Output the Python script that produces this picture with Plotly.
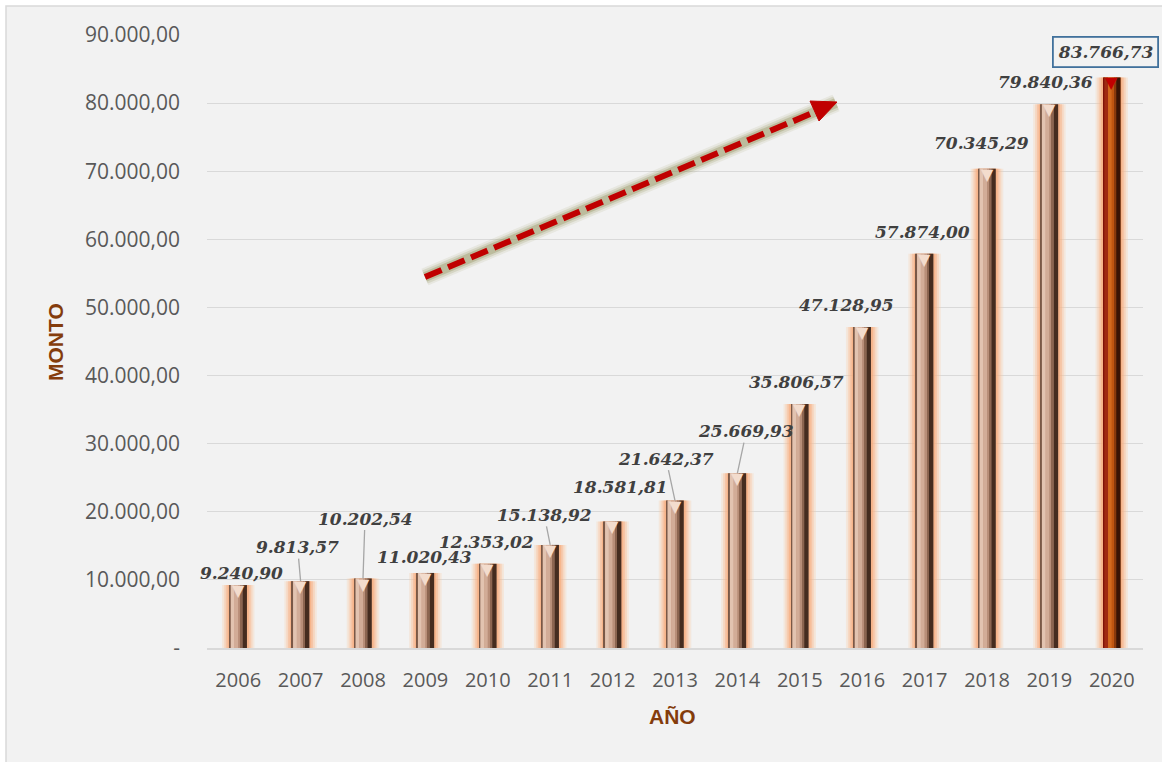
import plotly.graph_objects as go

# ---- data ----
years = [2006, 2007, 2008, 2009, 2010, 2011, 2012, 2013, 2014, 2015, 2016, 2017, 2018, 2019, 2020]
montos = [9240.90, 9813.57, 10202.54, 11020.43, 12353.02, 15138.92, 18581.81, 21642.37,
          25669.93, 35806.57, 47128.95, 57874.00, 70345.29, 79840.36, 83766.73]
y_tick_vals = [0, 10000, 20000, 30000, 40000, 50000, 60000, 70000, 80000, 90000]
y_tick_text = ["-", "10.000,00", "20.000,00", "30.000,00", "40.000,00", "50.000,00",
               "60.000,00", "70.000,00", "80.000,00", "90.000,00"]

# ---- geometry of the page ----
W, H = 1162, 762
M_L, M_R, M_T, M_B = 207, 19, 35, 114
PW, PH = W - M_L - M_R, H - M_T - M_B


def fmt_es(v):
    s = f"{v:,.2f}"
    return s.replace(",", "X").replace(".", ",").replace("X", ".")


def paper(px, py):
    return (px - M_L) / PW, (H - M_B - py) / PH


last = len(years) - 1
BAR_W = 0.28

fig = go.Figure()

# soft orange halo behind each bar (stacked translucent layers)
for w, col in [(0.52, "rgba(250,205,170,0.30)"), (0.46, "rgba(249,190,150,0.35)"),
               (0.40, "rgba(247,175,130,0.45)"), (0.34, "rgba(245,165,115,0.55)")]:
    fig.add_trace(go.Bar(
        x=years, y=montos, width=w,
        marker=dict(color=col, line=dict(width=0)),
        hoverinfo="skip", showlegend=False))

# bar body built from vertical shading strips (left light -> right dark)
strips = [
    # (offset from left edge, width, normal colour, highlighted colour)
    (0.000, 0.280, "#c49a84", "#c55a11"),
    (0.000, 0.020, "#7a5846", "#7e1209"),
    (0.020, 0.060, "#e2c3b0", "#a02a12"),
    (0.080, 0.060, "#d2ac97", "#d2691e"),
    (0.140, 0.040, "#b88e78", "#bf5510"),
    (0.180, 0.030, "#8c6550", "#8a3a0c"),
    (0.210, 0.070, "#452c1f", "#3a1405"),
]
for off, w, c_norm, c_hi in strips:
    colors = [c_hi if i == last else c_norm for i in range(len(years))]
    fig.add_trace(go.Bar(
        x=years, y=montos, width=w, offset=-BAR_W / 2 + off,
        marker=dict(color=colors, line=dict(width=0)),
        hoverinfo="skip", showlegend=False))

annotations = []

# bevelled cap on top of each bar
for i, (yr, v) in enumerate(zip(years, montos)):
    annotations.append(dict(
        x=yr, y=v, xref="x", yref="y", text="▼", showarrow=False,
        yanchor="top", yshift=5, borderpad=0,
        font=dict(family="DejaVu Sans", size=16, color="#c00000" if i == last else "#f3dccd")))

# value labels: pixel offsets of each label centre from its bar top
label_dx = [3, -3, 2, -1, -1, -6, 8, -9, 9, -3, -16, -2, -6, -4, -6]
label_dy = [-12, -34, -60, -16, -22, -30, -34, -42, -42, -22, -22, -22, -26, -22, -25]
leader = [False, True, True, False, False, True, False, True, True, False, False, False, False, False, False]

for i, (yr, v) in enumerate(zip(years, montos)):
    ann = dict(
        x=yr, y=v, xref="x", yref="y", text=f"<b><i>{fmt_es(v)}</i></b>",
        showarrow=True, ax=label_dx[i], ay=label_dy[i], axref="pixel", ayref="pixel",
        arrowhead=0, arrowwidth=1.3,
        arrowcolor="#a6a6a6" if leader[i] else "rgba(0,0,0,0)",
        font=dict(family="DejaVu Serif", size=17, color="#404040"),
        borderpad=1)
    if i == last:
        ann.update(bordercolor="#41719c", borderwidth=1.8, borderpad=4)
    annotations.append(ann)

# axis titles
tx, ty = paper(55, 342)
annotations.append(dict(x=tx, y=ty, xref="paper", yref="paper", text="<b>MONTO</b>",
                        textangle=-90, showarrow=False, xanchor="center", yanchor="middle",
                        font=dict(family="Liberation Sans", size=21, color="#843c0c")))
tx, ty = paper(672, 716)
annotations.append(dict(x=tx, y=ty, xref="paper", yref="paper", text="<b>AÑO</b>",
                        showarrow=False, xanchor="center", yanchor="middle",
                        font=dict(family="Liberation Sans", size=21, color="#843c0c")))

shapes = []
# chart area background panel
x0, y0 = paper(6, H + 2)
x1, y1 = paper(W + 2, 6)
shapes.append(dict(type="rect", xref="paper", yref="paper", x0=x0, y0=y0, x1=x1, y1=y1,
                   fillcolor="#f2f2f2", line=dict(color="#d9d9d9", width=1.5), layer="below"))

# trend arrow: blurred olive glow + dashed red shaft + head
sx, sy = paper(425, 277)
ex, ey = paper(822, 109)
gx, gy = paper(836, 103)
for wdt, col in [(18, "rgba(165,165,120,0.15)"), (14, "rgba(160,160,110,0.25)"),
                 (10, "rgba(150,150,100,0.40)")]:
    shapes.append(dict(type="line", xref="paper", yref="paper", x0=sx, y0=sy, x1=gx, y1=gy,
                       line=dict(color=col, width=wdt), layer="above"))
shapes.append(dict(type="line", xref="paper", yref="paper", x0=sx, y0=sy, x1=ex, y1=ey,
                   line=dict(color="#c00000", width=6, dash="18px,7px"), layer="above"))
tip = paper(837, 102)
c1 = paper(819, 121)
c2 = paper(810, 101)
shapes.append(dict(type="path", xref="paper", yref="paper",
                   path=f"M {tip[0]},{tip[1]} L {c1[0]},{c1[1]} L {c2[0]},{c2[1]} Z",
                   fillcolor="#c00000", line=dict(color="#c00000", width=1), layer="above"))

fig.update_layout(
    width=W, height=H,
    margin=dict(l=M_L, r=M_R, t=M_T, b=M_B),
    paper_bgcolor="#ffffff",
    plot_bgcolor="rgba(0,0,0,0)",
    barmode="overlay",
    showlegend=False,
    annotations=annotations,
    shapes=shapes,
    xaxis=dict(
        range=[years[0] - 0.5, years[-1] + 0.5],
        tickmode="array", tickvals=years, ticktext=[str(y) for y in years],
        showgrid=False, zeroline=False,
        showline=True, linecolor="#d9d9d9", linewidth=2,
        ticks="", ticklabelstandoff=13,
        tickfont=dict(family="Open Sans", size=20, color="#595959"),
    ),
    yaxis=dict(
        range=[0, 90000],
        tickmode="array", tickvals=y_tick_vals, ticktext=y_tick_text,
        showgrid=True, gridcolor="#d9d9d9", gridwidth=1,
        zeroline=False, showline=False,
        ticks="", ticklabelstandoff=26,
        tickfont=dict(family="Open Sans", size=21, color="#595959"),
    ),
)

fig.write_html("out.html")
